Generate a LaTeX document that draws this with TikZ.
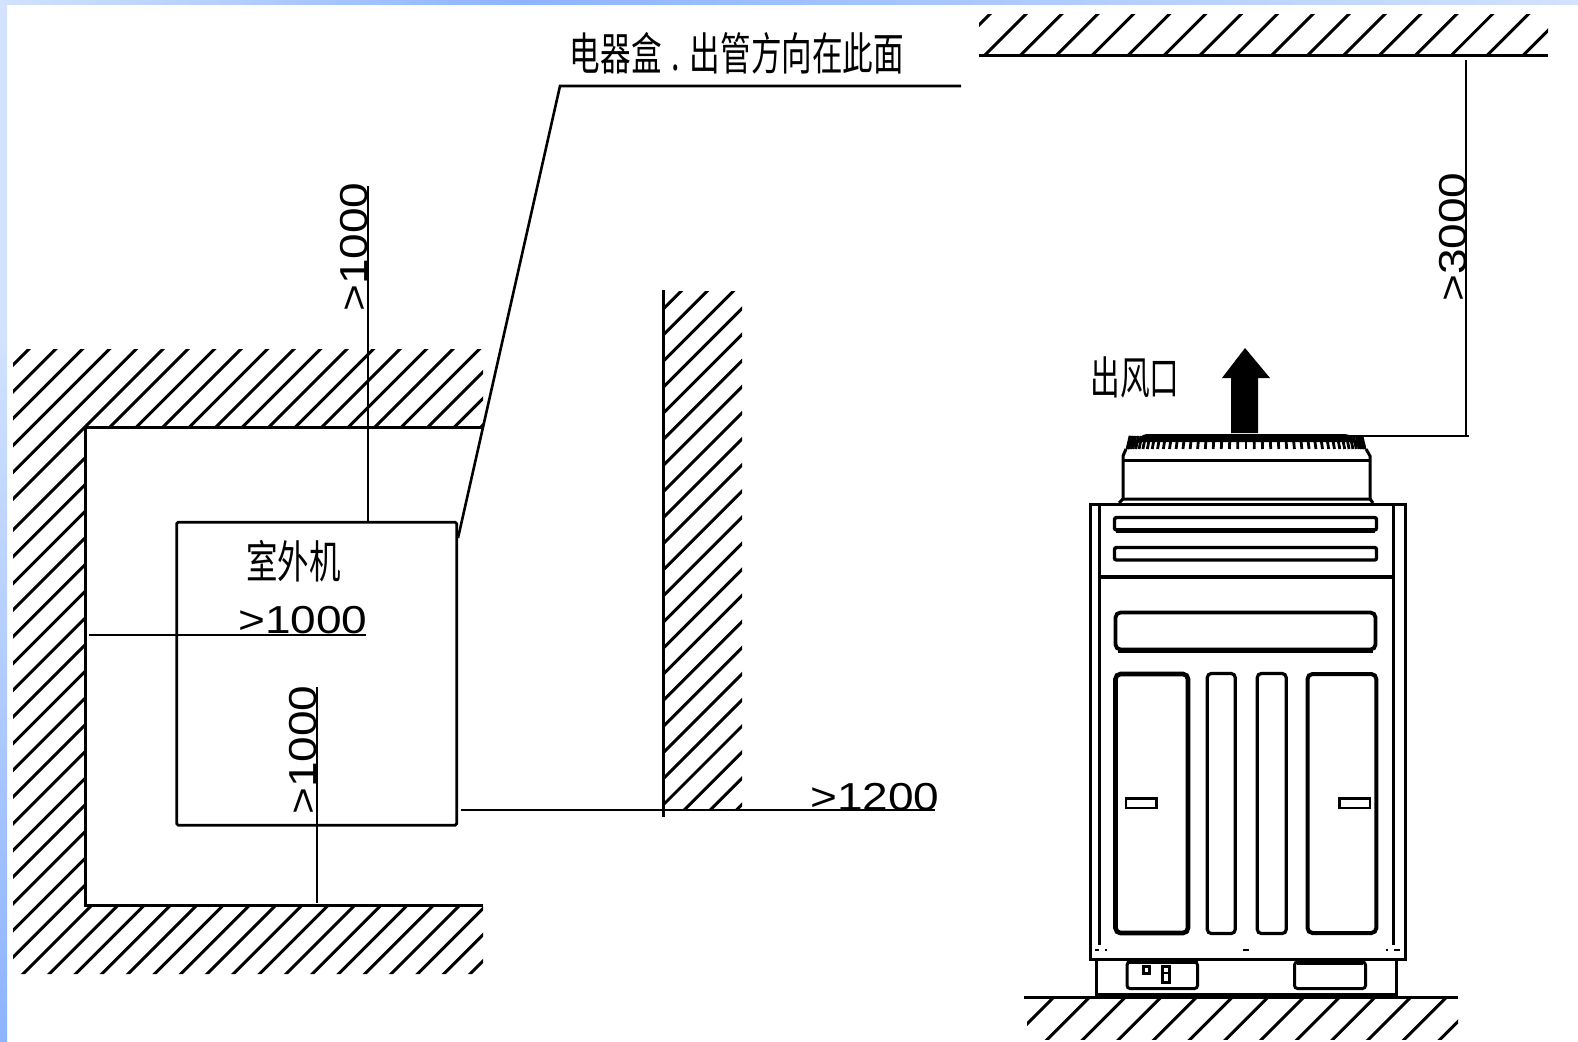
\documentclass[tikz,border=0pt]{standalone}
\usepackage{fontspec}
\setmainfont{Liberation Sans}
\newfontfamily\cjk{Noto Sans CJK SC}
\usetikzlibrary{calc}
\definecolor{bluelt}{HTML}{D2E2FF}
\definecolor{bluemd}{HTML}{A8C6FF}
\definecolor{bluedk}{HTML}{8DB4FF}
\tikzset{
  dim/.style={line width=2.4pt,black},
  wallline/.style={line width=3pt,black},
  hatchline/.style={line width=3pt,black},
  label/.style={inner sep=0pt,anchor=base west,xscale=1.18,font=\fontsize{39}{39}\selectfont},
  labelv/.style={inner sep=0pt,anchor=base west,rotate=90,xscale=1.18,font=\fontsize{39}{39}\selectfont},
  cn/.style={inner sep=0pt,anchor=center,font=\cjk\fontsize{45}{45}\selectfont},
  unitline/.style={line width=3pt,black},
  panel/.style={line width=4.6pt,black,rounded corners=5pt},
  slim/.style={line width=3.2pt,black,rounded corners=4pt},
  louver/.style={line width=3.4pt,black,rounded corners=2pt},
}
\newcommand{\hatchset}[3]{% first sum, spacing, last index
  \foreach \k in {0,...,#3}{
    \pgfmathsetmacro{\cc}{#1+\k*#2}
    \draw[hatchline] (\cc,0) -- (\cc-1500,1500);
  }
}
\begin{document}
\begin{tikzpicture}[x=1pt,y=-1pt]
\useasboundingbox (0,0) rectangle (1578,1041);
\fill[white] (0,0) rectangle (1578,1041);
% edge bands
\shade[top color=bluelt,bottom color=bluelt] (0,0) rectangle (7,330);
\shade[top color=bluelt,bottom color=bluedk] (0,330) rectangle (7,1041);
\shade[left color=bluelt,right color=bluedk] (0,0) rectangle (520,5);
\shade[left color=bluedk,right color=bluelt] (520,0) rectangle (1578,5);
% left room walls
\begin{scope}
\clip (13,349) -- (483,349) -- (483,427) -- (85,427) -- (85,905) -- (483,905) -- (483,974) -- (13,974) -- cycle;
\hatchset{378}{26.8}{5}
\end{scope}
\begin{scope}
\clip (85,349) rectangle (483,427);
\hatchset{537}{26.5}{15}
\end{scope}
\begin{scope}
\clip (13,427) -- (85,427) -- (85,905) -- (483,905) -- (483,974) -- (13,974) -- cycle;
\hatchset{543}{26.7}{17}
\hatchset{1023.2}{26.3}{17}
\end{scope}
% centre wall
\begin{scope}
\clip (663,291) rectangle (742,810);
\hatchset{972.2}{26.1}{22}
\end{scope}
% top right ceiling
\begin{scope}
\clip (979,15) rectangle (1548,56);
\hatchset{1004}{35.9}{16}
\end{scope}
% ground
\begin{scope}
\clip (1027,997) rectangle (1458,1039);
\hatchset{2051}{35.7}{14}
\end{scope}
% named points
\coordinate (wt1) at (85,427); \coordinate (wt2) at (483,427);
\coordinate (wb1) at (85,905); \coordinate (wb2) at (483,905);
\coordinate (cwt) at (663.5,290); \coordinate (cwb) at (663.5,817);
\coordinate (clg1) at (979,56); \coordinate (clg2) at (1548,56);
\coordinate (gr1) at (1024,997); \coordinate (gr2) at (1458,997);
\draw[wallline] (wt2) -- (wt1) -- (wb1) -- (wb2);
\draw[wallline] (cwt) -- (cwb);
\draw[wallline] (clg1) -- (clg2);
\draw[wallline] (gr1) -- (gr2);
% unit plan box
\node[draw,line width=2.8pt,minimum width=280pt,minimum height=303pt,inner sep=0pt,rounded corners=1.5pt] (unit) at (316.7,673.7) {};
% dimension lines
\coordinate (v1t) at (367.7,186); \coordinate (v1b) at (367.7,522);
\coordinate (h1l) at (89,635); \coordinate (h1r) at (366,635);
\coordinate (v2t) at (316.7,687); \coordinate (v2b) at (316.7,903);
\coordinate (h2l) at (461,810); \coordinate (h2r) at (935,810);
\coordinate (v3t) at (1466,60); \coordinate (v3b) at (1466,437);
\coordinate (h3l) at (1345,436); \coordinate (h3r) at (1469,436);
\draw[dim] (v1t) -- (v1b);
\draw[dim] (h1l) -- (h1r);
\draw[dim] (v2t) -- (v2b);
\draw[dim] (h2l) -- (h2r);
\draw[dim] (v3t) -- (v3b);
\draw[dim] (h3l) -- (h3r);
% leader
\coordinate (ld1) at (458,538); \coordinate (ld2) at (560,86); \coordinate (ld3) at (961,86);
\draw[dim,line width=2.6pt] (ld1) -- (ld2) -- (ld3);
% labels
\node[label] (t1) at (238,633) {>1000};
\node[label] (t2) at (810,810) {>1200};
\node[labelv] (t3) at (367,312) {>1000};
\node[labelv] (t4) at (316,815) {>1000};
\node[labelv] (t5) at (1466,302) {>3000};
\node[cn,xscale=.68] (t6) at (737,53) {电器盒\hspace{14pt}.\hspace{15pt}出管方向在此面};
\node[cn,xscale=.70] (t7) at (293.5,561) {室外机};
\node[cn,xscale=.66] (t8) at (1135,377) {出风口};
% outdoor unit: arrow
\fill[black] (1231,433) -- (1231,378) -- (1222,378) -- (1245,348) -- (1270,378) -- (1258,378) -- (1258,433) -- cycle;
% grille
\fill[black] (1127,449) -- (1127,443) to[out=-70,in=180] (1147,434) -- (1345,434) to[out=0,in=-110] (1365,443) -- (1365,449) -- (1352,442) -- (1140,442) -- cycle;
\foreach \a in {-88,-84,...,88}{
  \pgfmathsetmacro{\xa}{1246+116*sin(\a)}
  \pgfmathsetmacro{\xb}{1246+119*sin(\a)}
  \draw[line width=2.8pt,black] (\xa,436) -- (\xb,449);
}
\draw[unitline] (1126,449) -- (1123,456) -- (1123,500);
\draw[unitline] (1366,449) -- (1370,456) -- (1370,500);
\draw[unitline] (1123,460) -- (1370,460);
\draw[unitline] (1119,503) -- (1123,499) -- (1370,499) -- (1373,503);
% body
\draw[unitline] (1090,504) rectangle (1405,959);
\draw[unitline] (1099.5,504) -- (1099.5,945);
\draw[unitline] (1393.5,504) -- (1393.5,945);
\draw[line width=4pt] (1099.5,577) -- (1393.5,577);
\draw[louver] (1114.5,517.5) rectangle (1376.5,530);
\draw[louver] (1114.5,547.5) rectangle (1376.5,560);
\draw[line width=4.4pt] (1116,530.5) -- (1375,530.5);
\draw[panel,line width=3.8pt] (1115.5,612.5) rectangle (1375.5,649.5);
\draw[line width=5pt] (1118,650) -- (1373,650);
\draw[panel] (1115.5,674) rectangle (1188,933);
\draw[slim] (1207.3,673.5) rectangle (1235.2,933.5);
\draw[slim] (1257.3,673.5) rectangle (1286.2,933.5);
\draw[panel,line width=4pt] (1307.5,674) rectangle (1376.3,933);
\draw[line width=2.4pt] (1126,798.3) rectangle (1156.3,807.7);
\draw[line width=2.4pt] (1339.3,798.3) rectangle (1370,807.7);
% ticks
\draw[line width=2pt] (1095,949.5) -- (1099,949.5);
\draw[line width=2pt] (1105,949.5) -- (1107,949.5);
\draw[line width=2pt] (1243,949.5) -- (1249,949.5);
\draw[line width=2pt] (1385.5,949.5) -- (1387.5,949.5);
\draw[line width=2pt] (1394,949.5) -- (1400,949.5);
% base
\draw[unitline] (1096,959) -- (1096,997);
\draw[unitline] (1396.7,959) -- (1396.7,997);
\draw[line width=4.4pt] (1096,995.5) -- (1396.7,995.5);
\draw[line width=3pt,rounded corners=3pt] (1127,962) rectangle (1197.5,988.5);
\draw[line width=4pt] (1127,962) -- (1197.5,962);
\draw[line width=3pt,rounded corners=3pt] (1294.5,962) rectangle (1365.5,988.5);
\draw[line width=4.5pt] (1297,962.5) -- (1363,962.5);
\draw[line width=3pt] (1143.5,966) rectangle (1149,973);
\draw[line width=3pt] (1162,966) rectangle (1169,982);
\draw[line width=2pt] (1162,973) -- (1169,973);
\end{tikzpicture}
\end{document}
